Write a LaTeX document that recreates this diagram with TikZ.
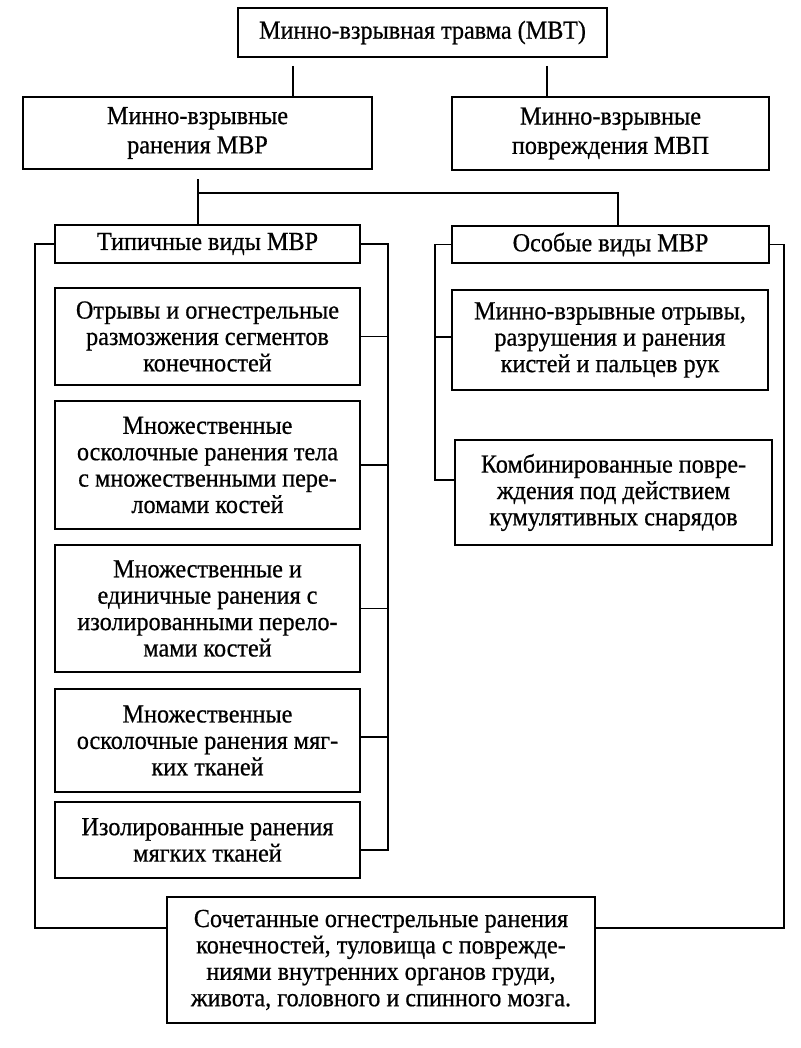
\documentclass[tikz,border=0pt]{standalone}
\usepackage{fontspec}
\setmainfont{Liberation Serif}[FakeStretch=0.93,FakeBold=0.6]
\begin{document}
\begin{tikzpicture}[x=0.75pt,y=-0.75pt,
  box/.style={draw,line width=1.4pt,inner sep=0pt,align=center,
    font=\fontsize{19.5pt}{19.8pt}\selectfont},
  conn/.style={line width=1.4pt}]
\useasboundingbox (0,0) rectangle (800,1048);
% boxes
\node[box,minimum width=369*0.75pt,minimum height=49*0.75pt] (top) at (422.5,32.5) {Минно-взрывная травма (МВТ)};
\node[box,minimum width=349*0.75pt,minimum height=72*0.75pt,font=\fontsize{19.5pt}{22pt}\selectfont] (mvr) at (197.5,133) {Минно-взрывные\\ранения МВР};
\node[box,minimum width=317*0.75pt,minimum height=73*0.75pt,font=\fontsize{19.5pt}{22pt}\selectfont] (mvp) at (610.5,133.5) {Минно-взрывные\\повреждения МВП};
\node[box,minimum width=305*0.75pt,minimum height=38*0.75pt] (typ) at (207.5,244) {Типичные виды МВР};
\node[box,minimum width=317*0.75pt,minimum height=37*0.75pt] (osob) at (610.5,244.5) {Особые виды МВР};
\node[box,minimum width=305*0.75pt,minimum height=97*0.75pt] (b1) at (207.5,336.5) {Отрывы и огнестрельные\\размозжения сегментов\\конечностей};
\node[box,minimum width=305*0.75pt,minimum height=128*0.75pt] (b2) at (207.5,465) {Множественные\\осколочные ранения тела\\с множественными пере-\\ломами костей};
\node[box,minimum width=305*0.75pt,minimum height=127*0.75pt] (b3) at (207.5,608.5) {Множественные и\\единичные ранения с\\изолированными перело-\\мами костей};
\node[box,minimum width=305*0.75pt,minimum height=103*0.75pt] (b4) at (207.5,740.5) {Множественные\\осколочные ранения мяг-\\ких тканей};
\node[box,minimum width=305*0.75pt,minimum height=76*0.75pt] (b5) at (207.5,840) {Изолированные ранения\\мягких тканей};
\node[box,minimum width=316*0.75pt,minimum height=100*0.75pt] (sa) at (610,340) {Минно-взрывные отрывы,\\разрушения и ранения\\кистей и пальцев рук};
\node[box,minimum width=317*0.75pt,minimum height=105*0.75pt] (sb) at (613.5,492.5) {Комбинированные повре-\\ждения под действием\\кумулятивных снарядов};
\node[box,minimum width=428*0.75pt,minimum height=126*0.75pt] (soch) at (381,960) {Сочетанные огнестрельные ранения\\конечностей, туловища с поврежде-\\ниями внутренних органов груди,\\живота, головного и спинного мозга.};
% helper coordinates
\coordinate (xl) at (293,0);
\coordinate (xr) at (547,0);
\coordinate (xm) at (198,0);
\coordinate (ym) at (0,193);
\coordinate (xo) at (618,0);
\coordinate (lbus) at (35,0);
\coordinate (rbus) at (388,0);
\coordinate (olbus) at (435,0);
\coordinate (orbus) at (784,0);
\coordinate (ybot) at (0,928);
% connectors
\draw[conn,shorten <=6] (top.south -| xl) -- (mvr.north -| xl);
\draw[conn,shorten <=6] (top.south -| xr) -- (mvp.north -| xr);
\draw[conn,shorten <=7] (mvr.south -| xm) -- (typ.north -| xm);
\draw[conn] (ym -| xm) -- (ym -| xo) -- (osob.north -| xo);
% typical: left bus to bottom box
\draw[conn] (typ.west) -- (typ.west -| lbus) -- (ybot -| lbus) -- (ybot -| soch.west);
% typical: right bus with branches
\draw[conn] (typ.east) -- (typ.east -| rbus) -- (rbus |- 0,850) -- (b5.east |- 0,850);
\draw[conn] (b1.east) -- (b1.east -| rbus);
\draw[conn] (b2.east) -- (b2.east -| rbus);
\draw[conn] (b3.east) -- (b3.east -| rbus);
\draw[conn] (b4.east |- 0,737) -- (rbus |- 0,737);
% special: left bus with branches
\draw[conn] (osob.west) -- (osob.west -| olbus) -- (olbus |- 0,480) -- (sb.west |- 0,480);
\draw[conn] (sa.west |- 0,337) -- (olbus |- 0,337);
% special: right bus to bottom box
\draw[conn] (osob.east) -- (osob.east -| orbus) -- (ybot -| orbus) -- (ybot -| soch.east);
\end{tikzpicture}
\end{document}
